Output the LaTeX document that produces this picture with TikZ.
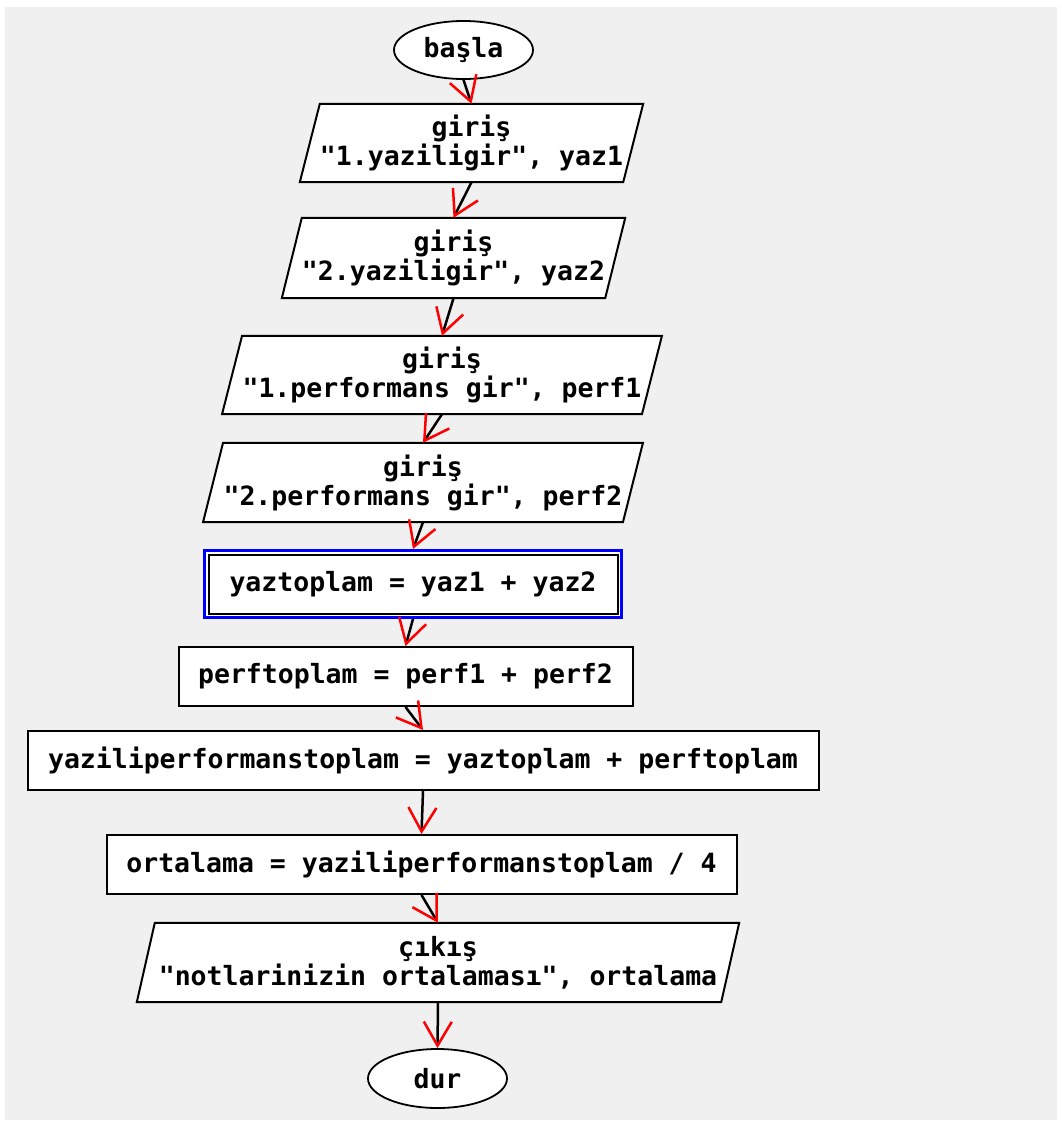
\documentclass[tikz,border=0pt]{standalone}
\usepackage{fontspec}
\newfontfamily\pix{DejaVu Sans Mono}
\usetikzlibrary{shapes.geometric,arrows.meta,backgrounds}
\definecolor{bg}{RGB}{240,240,240}
\definecolor{selblue}{RGB}{0,0,255}
\begin{document}
\begin{tikzpicture}[x=1pt,y=-1pt,
  txt/.style={font=\pix\bfseries\fontsize{26.5}{29}\selectfont, align=center, inner sep=0pt},
  term/.style={txt, ellipse, draw, fill=white, line width=1.8pt, minimum width=139pt, minimum height=58pt},
  proc/.style={txt, rectangle, draw, fill=white, line width=2pt, minimum height=59pt},
  io/.style={txt, rectangle, minimum height=79pt},
  shp/.style={draw, fill=white, line width=2pt, line join=miter},
  conn/.style={line width=2.5pt, -{Straight Barb[color=red, line width=2.5pt, length=24pt, width=28pt]}}
]
\useasboundingbox (0,0) rectangle (1061,1124);
\node[term] (start) at (463.5,50) {başla};
\node[io, minimum width=323pt, minimum height=78pt] (p1) at (471.5,143) {giriş\\"1.yaziligir", yaz1};
\node[io, minimum width=323pt, minimum height=80pt] (p2) at (453.5,258) {giriş\\"2.yaziligir", yaz2};
\node[io, minimum width=419.5pt, minimum height=78pt] (p3) at (442,375) {giriş\\"1.performans gir", perf1};
\node[io, minimum width=419.5pt] (p4) at (423,482.5) {giriş\\"2.performans gir", perf2};
\node[proc, draw=selblue, line width=3pt, minimum width=417pt, minimum height=67pt] (r5) at (413,584) {yaztoplam = yaz1 + yaz2};
\draw[line width=2pt] ([shift={(5.5,5.5)}]r5.north west) rectangle ([shift={(-5.5,-5.5)}]r5.south east);
\node[proc, minimum width=454pt] (r6) at (405.5,676.5) {perftoplam = perf1 + perf2};
\node[proc, minimum width=791pt] (r7) at (423,760.5) {yaziliperformanstoplam = yaztoplam + perftoplam};
\node[proc, minimum width=630pt] (r8) at (421.5,864.5) {ortalama = yaziliperformanstoplam / 4};
\node[io, minimum width=584pt] (p9) at (438,962.5) {çıkış\\"notlarinizin ortalaması", ortalama};
\node[term, minimum height=59pt] (end) at (437.5,1078.5) {dur};
\begin{scope}[on background layer]
  \fill[white] (0,0) rectangle (1061,1124);
  \fill[bg] (5,7) rectangle (1057,1120);
  \foreach \n/\s in {p1/10,p2/10,p3/10,p4/10,p9/9}
    \draw[shp] ([xshift=\s pt]\n.north west) -- ([xshift=\s pt]\n.north east)
      -- ([xshift=-\s pt]\n.south east) -- ([xshift=-\s pt]\n.south west) -- cycle;
\end{scope}
\draw[conn] (start.south) -- (p1.north);
\draw[conn] (p1.south) -- (p2.north);
\draw[conn] (p2.south) -- (p3.north);
\draw[conn] (p3.south) -- (p4.north);
\draw[conn] (p4.south) -- (r5.north);
\draw[conn] (r5.south) -- (r6.north);
\draw[conn] (r6.south) -- (r7.north);
\draw[conn] (r7.south) -- (r8.north);
\draw[conn] (r8.south) -- (p9.north);
\draw[conn] (p9.south) -- (end.north);
\end{tikzpicture}
\end{document}
